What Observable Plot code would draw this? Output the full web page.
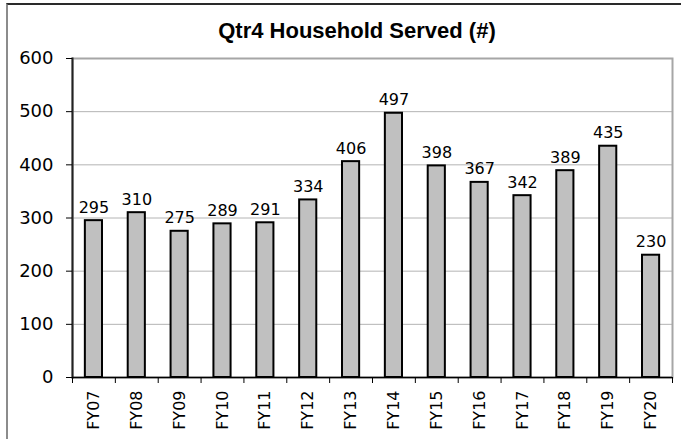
<!DOCTYPE html>
<html>
<head>
<meta charset="utf-8">
<script src="https://cdn.jsdelivr.net/npm/d3@7"></script>
<script src="https://cdn.jsdelivr.net/npm/@observablehq/plot@0.6"></script>
<style>
  html, body { margin: 0; padding: 0; background: #fff; overflow: hidden; }
  #wrap { position: relative; width: 681px; height: 439px; overflow: hidden; font-family: "Liberation Sans", Arial, sans-serif; }
  #border { position: absolute; left: 6px; top: 3px; width: 800px; height: 600px; border-left: 2px solid #8c8c8c; border-top: 2px solid #2a2a2a; z-index: 2; pointer-events: none; }
  #title { position: absolute; left: 0; top: 20px; width: 714px; text-align: center; font-size: 22px; font-weight: bold; line-height: 1; color: #000; z-index: 3; }
  #chart { position: absolute; left: 0; top: 0; }
</style>
</head>
<body>
<div id="wrap">
  <div id="chart"></div>
  <div id="border"></div>
  <div id="title">Qtr4 Household Served (#)</div>
</div>
<script>
const categories = ["FY07","FY08","FY09","FY10","FY11","FY12","FY13","FY14","FY15","FY16","FY17","FY18","FY19","FY20"];
const values = [295, 310, 275, 289, 291, 334, 406, 497, 398, 367, 342, 389, 435, 230];
const yTicks = [0, 100, 200, 300, 400, 500, 600];

const data = categories.map((c, i) => ({cat: c, val: values[i]}));

const W = 681, H = 439, mL = 72, mR = 9, mT = 58, mB = 62;
const step = (W - mL - mR) / categories.length;

const chart = Plot.plot({
  width: W,
  height: H,
  marginLeft: mL,
  marginRight: mR,
  marginTop: mT,
  marginBottom: mB,
  style: {fontFamily: "'DejaVu Sans', Verdana, sans-serif", background: "transparent", color: "#000"},
  x: {domain: categories, paddingInner: 0.6, paddingOuter: 0.3, round: false, axis: null, label: null},
  y: {domain: [0, 600], axis: null, label: null},
  marks: [
    Plot.ruleY(yTicks, {stroke: "#b4b4b4", strokeWidth: 1}),
    Plot.frame({stroke: "#a6a6a6", strokeWidth: 2}),
    Plot.barY(data, {x: "cat", y: "val", fill: "#c0c0c0", stroke: "#000", strokeWidth: 2}),
    Plot.frame({anchor: "left", stroke: "#222", strokeWidth: 2}),
    Plot.ruleY([0], {stroke: "#000", strokeWidth: 1.5}),
    Plot.text(data, {x: "cat", y: "val", text: d => String(d.val), lineAnchor: "bottom", dy: -8, fontSize: 16, fill: "#000"}),
    Plot.axisY(yTicks, {tickSize: 6, tickPadding: 13, fontSize: 18, tickFormat: d => String(d), stroke: "#000", label: null}),
    Plot.axisX({tickSize: 0, tickRotate: -90, tickPadding: 13, fontSize: 16, label: null}),
    Plot.axisX(categories, {tickSize: 6, tickFormat: () => "", dx: -step / 2, stroke: "#000", label: null}),
    Plot.axisX([categories[categories.length - 1]], {tickSize: 6, tickFormat: () => "", dx: step / 2, stroke: "#000", label: null})
  ]
});
document.getElementById("chart").appendChild(chart);
</script>
</body>
</html>
